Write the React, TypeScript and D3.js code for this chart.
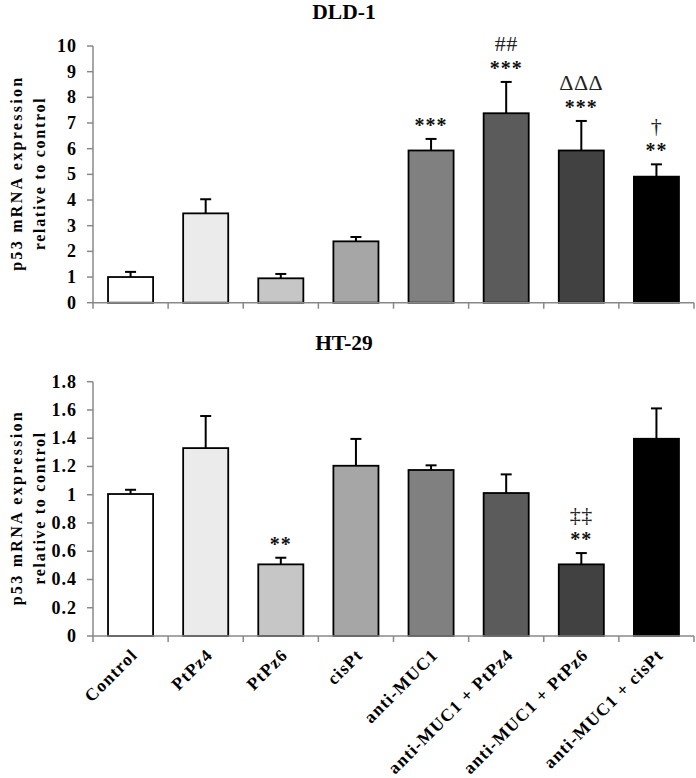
import React from "react";
import * as d3 from "d3";

const categories = [
  "Control",
  "PtPz4",
  "PtPz6",
  "cisPt",
  "anti-MUC1",
  "anti-MUC1 + PtPz4",
  "anti-MUC1 + PtPz6",
  "anti-MUC1 + cisPt",
];
const barColors = ["#ffffff", "#ebebeb", "#c6c6c6", "#a6a6a6", "#808080", "#5b5b5b", "#414141", "#000000"];

const dldMeans = [1.0, 3.48, 0.95, 2.39, 5.93, 7.38, 5.93, 4.91];
const dldErrors = [0.2, 0.55, 0.17, 0.17, 0.45, 1.22, 1.15, 0.48];
const dldStars = ["", "", "", "", "***", "***", "***", "**"];
const dldMarks = ["", "", "", "", "", "##", "ΔΔΔ", "†"];
const dldTicks = [0, 1, 2, 3, 4, 5, 6, 7, 8, 9, 10];

const htMeans = [1.005, 1.33, 0.507, 1.205, 1.175, 1.012, 0.507, 1.396];
const htErrors = [0.03, 0.227, 0.047, 0.19, 0.033, 0.132, 0.08, 0.215];
const htStars = ["", "", "**", "", "", "", "**", ""];
const htMarks = ["", "", "", "", "", "", "‡‡", ""];
const htTicks = [0, 0.2, 0.4, 0.6, 0.8, 1.0, 1.2, 1.4, 1.6, 1.8];

const FONT = "'Liberation Serif', 'Times New Roman', serif";
const AXIS = "#888888";

const x = d3
  .scaleBand<string>()
  .domain(categories)
  .range([93, 694])
  .paddingInner(0.4)
  .paddingOuter(0.2);

type PanelProps = {
  title: string;
  titleY: number;
  means: number[];
  errors: number[];
  stars: string[];
  marks: string[];
  ticks: number[];
  maxV: number;
  top: number;
  bottom: number;
  showX: boolean;
};

function Panel(p: PanelProps) {
  const y = d3.scaleLinear().domain([0, p.maxV]).range([p.bottom, p.top]);
  const step = x.step();
  const bw = x.bandwidth();
  const x0 = x.range()[0];
  const x1 = x.range()[1];
  const boundaries = d3
    .range(categories.length + 1)
    .map((i) => (x(categories[0]) as number) - (step - bw) / 2 + i * step);
  const cy = (p.top + p.bottom) / 2;
  const fmt = (v: number) => String(+v.toFixed(1));
  return (
    <g>
      <text x={344} y={p.titleY} textAnchor="middle" fontFamily={FONT} fontWeight="bold" fontSize={21.5}>
        {p.title}
      </text>
      {/* y title */}
      <text
        transform={`translate(22,${cy}) rotate(-90)`}
        textAnchor="middle"
        fontFamily={FONT}
        fontWeight="bold"
        fontSize={16}
        textLength={193}
        lengthAdjust="spacing"
      >
        p53 mRNA expression
      </text>
      <text
        transform={`translate(44.5,${cy}) rotate(-90)`}
        textAnchor="middle"
        fontFamily={FONT}
        fontWeight="bold"
        fontSize={16}
        textLength={152}
        lengthAdjust="spacing"
      >
        relative to control
      </text>
      {/* y axis */}
      <line x1={x0} x2={x0} y1={p.top} y2={p.bottom} stroke={AXIS} strokeWidth={1.5} />
      {p.ticks.map((t) => (
        <g key={t}>
          <line x1={x0 - 6} x2={x0} y1={y(t)} y2={y(t)} stroke={AXIS} strokeWidth={1.5} />
          <text
            x={77}
            y={y(t) + 6}
            textAnchor="end"
            fontFamily={FONT}
            fontWeight="bold"
            fontSize={18}
            letterSpacing={1}
          >
            {fmt(t)}
          </text>
        </g>
      ))}
      {/* bars */}
      {categories.map((c, i) => {
        const bx = x(c) as number;
        const cx = bx + bw / 2;
        const yt = y(p.means[i]);
        const ye = y(p.means[i] + p.errors[i]);
        return (
          <g key={c}>
            <line x1={cx} x2={cx} y1={yt} y2={ye} stroke="#000" strokeWidth={2} />
            <line x1={cx - 5.5} x2={cx + 5.5} y1={ye} y2={ye} stroke="#000" strokeWidth={2} />
            <rect x={bx} y={yt} width={bw} height={p.bottom - yt} fill={barColors[i]} stroke="#000" strokeWidth={1.8} />
            {p.stars[i] && (
              <text
                x={cx}
                y={ye - 7}
                textAnchor="middle"
                fontFamily={FONT}
                fontWeight="bold"
                fontSize={20}
                letterSpacing={1}
                fill="#111"
              >
                {p.stars[i]}
              </text>
            )}
            {p.marks[i] && (
              <text
                x={cx}
                y={ye - 31}
                textAnchor="middle"
                fontFamily={FONT}
                fontSize={22}
                letterSpacing={0.5}
                fill="#222"
              >
                {p.marks[i]}
              </text>
            )}
          </g>
        );
      })}
      {/* x axis */}
      <line x1={x0} x2={x1} y1={p.bottom} y2={p.bottom} stroke={AXIS} strokeWidth={1.5} />
      {boundaries.map((b, i) => (
        <line key={i} x1={b} x2={b} y1={p.bottom} y2={p.bottom + 6} stroke={AXIS} strokeWidth={1.5} />
      ))}
      {p.showX &&
        categories.map((c) => {
          const cx = (x(c) as number) + bw / 2;
          return (
            <text
              key={c}
              transform={`translate(${cx + 8},${p.bottom + 20}) rotate(-45)`}
              textAnchor="end"
              fontFamily={FONT}
              fontWeight="bold"
              fontSize={17.5}
              letterSpacing={1.2}
            >
              {c}
            </text>
          );
        })}
    </g>
  );
}

export default function App() {
  return (
    <svg width={696} height={778} style={{ position: "absolute", left: 0, top: 0, background: "#fff" }}>
      <rect width={696} height={778} fill="#fff" />
      <Panel
        title="DLD-1"
        titleY={19}
        means={dldMeans}
        errors={dldErrors}
        stars={dldStars}
        marks={dldMarks}
        ticks={dldTicks}
        maxV={10}
        top={46}
        bottom={302.7}
        showX={false}
      />
      <Panel
        title="HT-29"
        titleY={350}
        means={htMeans}
        errors={htErrors}
        stars={htStars}
        marks={htMarks}
        ticks={htTicks}
        maxV={1.8}
        top={381.7}
        bottom={636}
        showX={true}
      />
    </svg>
  );
}
